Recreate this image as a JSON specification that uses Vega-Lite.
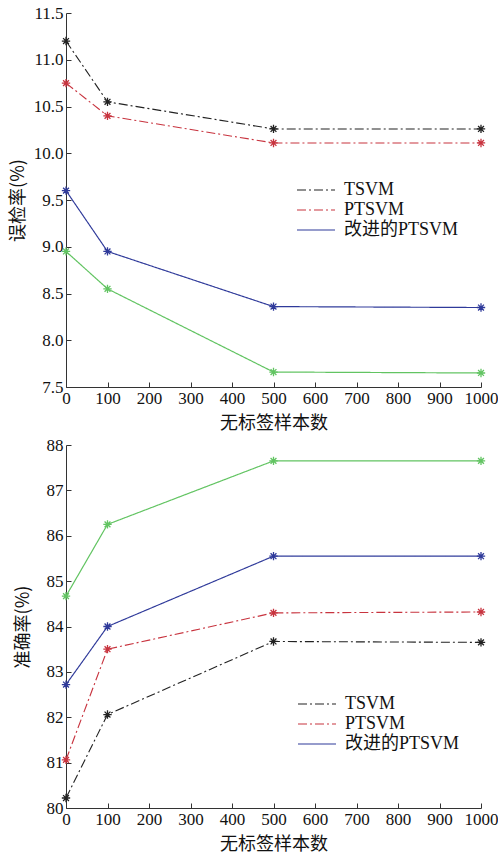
{
  "$schema": "https://vega.github.io/schema/vega-lite/v6.json",
  "padding": {"left": 9, "top": 4, "right": 0, "bottom": 5},
  "spacing": 4,
  "background": "white",
  "resolve": {
    "scale": {"color": "independent", "strokeDash": "independent", "strokeWidth": "independent", "stroke": "independent"},
    "legend": {"color": "independent", "strokeDash": "independent", "strokeWidth": "independent", "stroke": "independent"}
  },
  "config": {
    "font": "Liberation Serif",
    "view": {"stroke": null},
    "axis": {
      "grid": false,
      "domainColor": "#333",
      "tickColor": "#333",
      "tickSize": -5,
      "labelFont": "Liberation Serif",
      "labelFontSize": 17,
      "labelColor": "#111",
      "titleFont": "Noto Sans CJK SC",
      "titleFontSize": 18,
      "titleFontWeight": "normal",
      "titleColor": "#111"
    },
    "legend": {
      "labelFont": "Liberation Serif, Noto Sans CJK SC",
      "labelFontSize": 18,
      "labelColor": "#111"
    }
  },
  "datasets": {
    "err": [
      {"n": 0, "v": 11.2, "s": "TSVM"},
      {"n": 100, "v": 10.55, "s": "TSVM"},
      {"n": 500, "v": 10.26, "s": "TSVM"},
      {"n": 1000, "v": 10.26, "s": "TSVM"},
      {"n": 0, "v": 10.75, "s": "PTSVM"},
      {"n": 100, "v": 10.4, "s": "PTSVM"},
      {"n": 500, "v": 10.11, "s": "PTSVM"},
      {"n": 1000, "v": 10.11, "s": "PTSVM"},
      {"n": 0, "v": 9.6, "s": "改进的PTSVM"},
      {"n": 100, "v": 8.95, "s": "改进的PTSVM"},
      {"n": 500, "v": 8.36, "s": "改进的PTSVM"},
      {"n": 1000, "v": 8.35, "s": "改进的PTSVM"},
      {"n": 0, "v": 8.95, "s": "其他"},
      {"n": 100, "v": 8.55, "s": "其他"},
      {"n": 500, "v": 7.66, "s": "其他"},
      {"n": 1000, "v": 7.65, "s": "其他"}
    ],
    "acc": [
      {"n": 0, "v": 80.22, "s": "TSVM"},
      {"n": 100, "v": 82.06, "s": "TSVM"},
      {"n": 500, "v": 83.67, "s": "TSVM"},
      {"n": 1000, "v": 83.65, "s": "TSVM"},
      {"n": 0, "v": 81.06, "s": "PTSVM"},
      {"n": 100, "v": 83.5, "s": "PTSVM"},
      {"n": 500, "v": 84.3, "s": "PTSVM"},
      {"n": 1000, "v": 84.32, "s": "PTSVM"},
      {"n": 0, "v": 82.72, "s": "改进的PTSVM"},
      {"n": 100, "v": 84.0, "s": "改进的PTSVM"},
      {"n": 500, "v": 85.55, "s": "改进的PTSVM"},
      {"n": 1000, "v": 85.55, "s": "改进的PTSVM"},
      {"n": 0, "v": 84.67, "s": "其他"},
      {"n": 100, "v": 86.25, "s": "其他"},
      {"n": 500, "v": 87.65, "s": "其他"},
      {"n": 1000, "v": 87.65, "s": "其他"}
    ]
  },
  "vconcat": [
    {
      "width": 415,
      "height": 374,
      "data": {"name": "err"},
      "layer": [
        {
          "mark": {"type": "line"},
          "encoding": {
            "x": {"field": "n", "type": "quantitative", "scale": {"domain": [0, 1000], "nice": false},
              "axis": {"values": [0,100,200,300,400,500,600,700,800,900,1000], "format": "d", "title": "无标签样本数", "labelPadding": 8, "titlePadding": 8, "labelFlush": false}},
            "y": {"field": "v", "type": "quantitative", "scale": {"domain": [7.5, 11.5], "nice": false, "zero": false},
              "axis": {"values": [7.5,8,8.5,9,9.5,10,10.5,11,11.5], "format": ".1f", "title": "误检率(%)", "labelPadding": 8, "titlePadding": 6, "labelFlush": false}},
            "color": {"field": "s", "type": "nominal",
              "scale": {"domain": ["TSVM", "PTSVM", "改进的PTSVM", "其他"], "range": ["#222222", "#c8343f", "#2f3a9a", "#62c462"]},
              "legend": {"values": ["TSVM", "PTSVM", "改进的PTSVM"], "title": null, "orient": "none", "legendX": 230, "legendY": 167, "symbolType": "stroke", "symbolSize": 1444, "symbolStrokeWidth": 1.2, "clipHeight": 20, "rowPadding": 0, "labelOffset": 8}},
            "strokeDash": {"field": "s", "type": "nominal",
              "scale": {"domain": ["TSVM", "PTSVM", "改进的PTSVM", "其他"], "range": [[9, 3, 2, 3], [9, 3, 2, 3], [1, 0], [1, 0]]},
              "legend": {"values": ["TSVM", "PTSVM", "改进的PTSVM"], "title": null, "orient": "none", "legendX": 230, "legendY": 167, "symbolType": "stroke", "symbolSize": 1444, "symbolStrokeWidth": 1.2, "clipHeight": 20, "rowPadding": 0, "labelOffset": 8}},
            "strokeWidth": {"field": "s", "type": "nominal",
              "scale": {"domain": ["TSVM", "PTSVM", "改进的PTSVM", "其他"], "range": [1.1, 1.2, 1.1, 2.8]},
              "legend": null}
          }
        },
        {
          "mark": {"type": "point", "filled": false, "shape": "M-1,0L1,0M0,-1L0,1M-0.7,-0.7L0.7,0.7M-0.7,0.7L0.7,-0.7", "size": 70, "strokeWidth": 1.3, "opacity": 1},
          "encoding": {
            "x": {"field": "n", "type": "quantitative"},
            "y": {"field": "v", "type": "quantitative"},
            "stroke": {"field": "s", "type": "nominal",
              "scale": {"domain": ["TSVM", "PTSVM", "改进的PTSVM", "其他"], "range": ["#222222", "#c8343f", "#2f3a9a", "#62c462"]},
              "legend": null}
          }
        }
      ]
    },
    {
      "width": 415,
      "height": 363,
      "data": {"name": "acc"},
      "layer": [
        {
          "mark": {"type": "line"},
          "encoding": {
            "x": {"field": "n", "type": "quantitative", "scale": {"domain": [0, 1000], "nice": false},
              "axis": {"values": [0,100,200,300,400,500,600,700,800,900,1000], "format": "d", "title": "无标签样本数", "labelPadding": 8, "titlePadding": 8, "labelFlush": false}},
            "y": {"field": "v", "type": "quantitative", "scale": {"domain": [80, 88], "nice": false, "zero": false},
              "axis": {"values": [80,81,82,83,84,85,86,87,88], "title": "准确率(%)", "labelPadding": 8, "titlePadding": 14, "labelFlush": false}},
            "color": {"field": "s", "type": "nominal",
              "scale": {"domain": ["TSVM", "PTSVM", "改进的PTSVM", "其他"], "range": ["#222222", "#c8343f", "#2f3a9a", "#62c462"]},
              "legend": {"values": ["TSVM", "PTSVM", "改进的PTSVM"], "title": null, "orient": "none", "legendX": 231, "legendY": 249, "symbolType": "stroke", "symbolSize": 1444, "symbolStrokeWidth": 1.2, "clipHeight": 20, "rowPadding": 0, "labelOffset": 8}},
            "strokeDash": {"field": "s", "type": "nominal",
              "scale": {"domain": ["TSVM", "PTSVM", "改进的PTSVM", "其他"], "range": [[9, 3, 2, 3], [9, 3, 2, 3], [1, 0], [1, 0]]},
              "legend": {"values": ["TSVM", "PTSVM", "改进的PTSVM"], "title": null, "orient": "none", "legendX": 231, "legendY": 249, "symbolType": "stroke", "symbolSize": 1444, "symbolStrokeWidth": 1.2, "clipHeight": 20, "rowPadding": 0, "labelOffset": 8}},
            "strokeWidth": {"field": "s", "type": "nominal",
              "scale": {"domain": ["TSVM", "PTSVM", "改进的PTSVM", "其他"], "range": [1.1, 1.2, 1.1, 2.8]},
              "legend": null}
          }
        },
        {
          "mark": {"type": "point", "filled": false, "shape": "M-1,0L1,0M0,-1L0,1M-0.7,-0.7L0.7,0.7M-0.7,0.7L0.7,-0.7", "size": 70, "strokeWidth": 1.3, "opacity": 1},
          "encoding": {
            "x": {"field": "n", "type": "quantitative"},
            "y": {"field": "v", "type": "quantitative"},
            "stroke": {"field": "s", "type": "nominal",
              "scale": {"domain": ["TSVM", "PTSVM", "改进的PTSVM", "其他"], "range": ["#222222", "#c8343f", "#2f3a9a", "#62c462"]},
              "legend": null}
          }
        }
      ]
    }
  ]
}
